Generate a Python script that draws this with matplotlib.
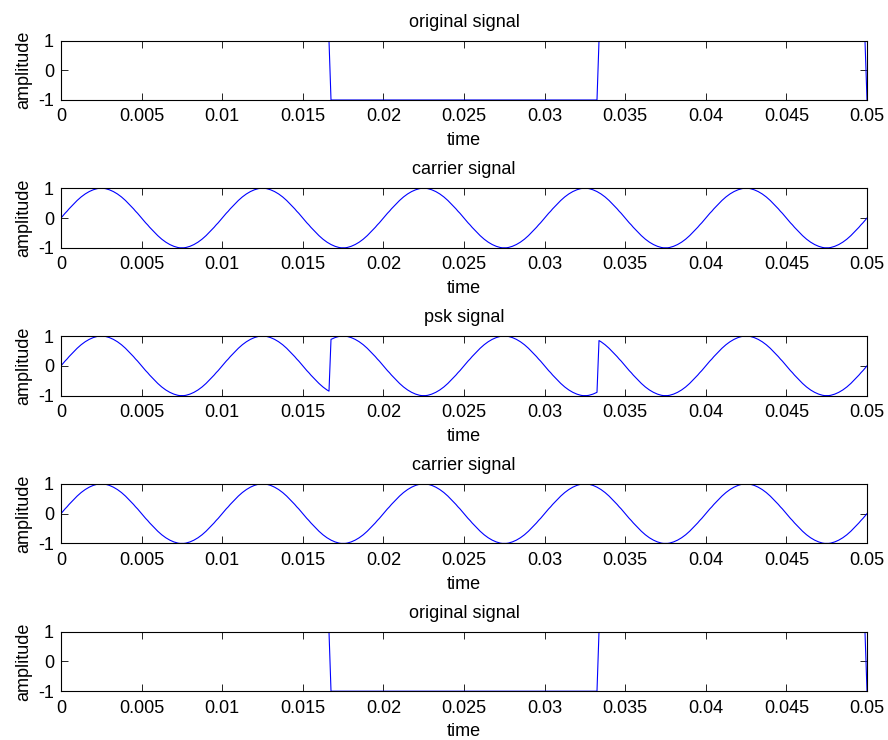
import numpy as np
import matplotlib
matplotlib.use("Agg")
import matplotlib.pyplot as plt

plt.rcParams['font.family'] = ['Liberation Sans', 'DejaVu Sans']

# sample step of the time axis (s)
step = 0.000125

# one carrier period (80 samples per period)
carrier_period = [
    0, 0.08, 0.16, 0.23, 0.31, 0.38, 0.45, 0.52, 0.59, 0.65,
    0.71, 0.76, 0.81, 0.85, 0.89, 0.92, 0.95, 0.97, 0.99, 1.00,
    1.00, 1.00, 0.99, 0.97, 0.95, 0.92, 0.89, 0.85, 0.81, 0.76,
    0.71, 0.65, 0.59, 0.52, 0.45, 0.38, 0.31, 0.23, 0.16, 0.08,
    0, -0.08, -0.16, -0.23, -0.31, -0.38, -0.45, -0.52, -0.59, -0.65,
    -0.71, -0.76, -0.81, -0.85, -0.89, -0.92, -0.95, -0.97, -0.99, -1.00,
    -1.00, -1.00, -0.99, -0.97, -0.95, -0.92, -0.89, -0.85, -0.81, -0.76,
    -0.71, -0.65, -0.59, -0.52, -0.45, -0.38, -0.31, -0.23, -0.16, -0.08,
]
n_periods = 5
carrier_last = 0

# bit sequence of the original signal
seg_edges = [0, 0.01667, 0.03333, 0.05]
seg_bits = [1, -1, 1]
signal_last = -1

titles = ["original signal", "carrier signal", "psk signal",
          "carrier signal", "original signal"]
xticks = [0, 0.005, 0.01, 0.015, 0.02, 0.025, 0.03, 0.035, 0.04, 0.045, 0.05]
xticklabels = ["0", "0.005", "0.01", "0.015", "0.02", "0.025", "0.03",
               "0.035", "0.04", "0.045", "0.05"]

carrier = np.array(list(carrier_period) * n_periods + [carrier_last])
t = np.arange(len(carrier)) * step
idx = np.clip(np.searchsorted(seg_edges, t, side='right') - 1, 0, len(seg_bits) - 1)
signal = np.array(seg_bits)[idx].astype(float)
signal[-1] = signal_last
psk = carrier * signal

series = [signal, carrier, psk, carrier, signal]

fig = plt.figure(figsize=(8.88, 7.4), dpi=100)
W, H = 888, 740
left, width, height = 61, 806, 59.5
tops = [40.5, 188.3, 336.1, 483.9, 631.7]
fs = 13

for top, y, title in zip(tops, series, titles):
    ax = fig.add_axes([left / W, 1 - (top + height) / H, width / W, height / H])
    ax.plot(t, y, color='#0000ff', lw=0.8)
    ax.set_xlim(0, 0.05)
    ax.set_ylim(-1, 1)
    ax.set_xticks(xticks)
    ax.set_xticklabels(xticklabels)
    ax.set_yticks([-1, 0, 1])
    ax.set_yticklabels(["-1", "0", "1"])
    ax.tick_params(direction='in', length=5, width=0.6, top=True, right=True,
                   labelsize=fs)
    ax.tick_params(axis='x', pad=6)
    ax.tick_params(axis='y', pad=5)
    for s in ax.spines.values():
        s.set_linewidth(0.8)
    ax.set_title(title, fontsize=fs, pad=10)
    ax.set_xlabel("time", fontsize=fs, labelpad=5)
    ax.set_ylabel("amplitude", fontsize=fs, labelpad=4)

fig.savefig("out.png", dpi=100)
